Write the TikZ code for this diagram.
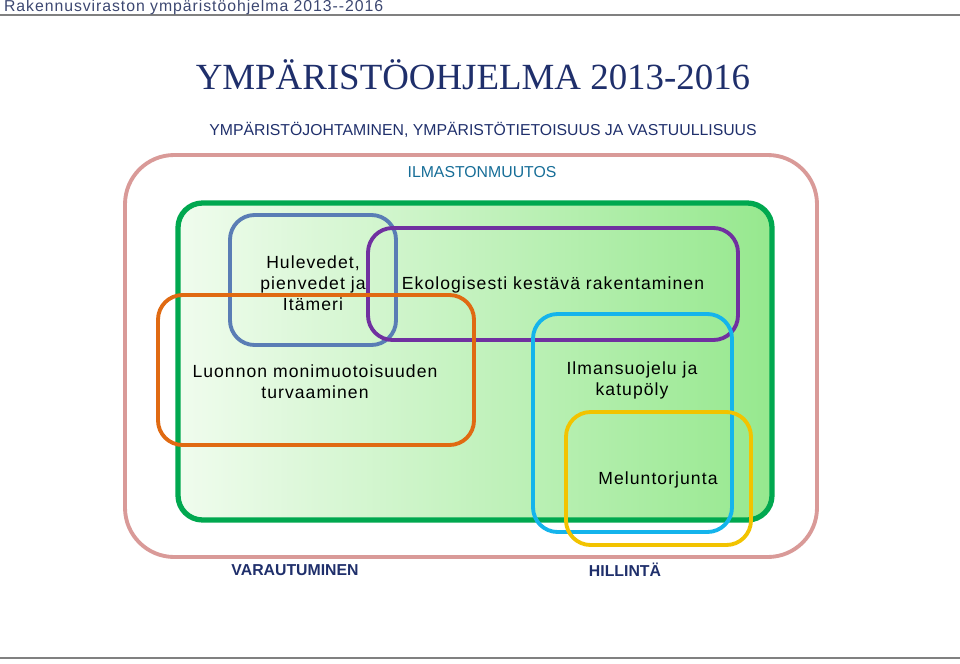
\documentclass[tikz,border=0pt]{standalone}
\usepackage{fontspec}
\setmainfont{Liberation Sans}
\newfontfamily\titlefont{Liberation Serif}
\newfontfamily\spacedfont[LetterSpace=6]{Liberation Sans}
\usetikzlibrary{positioning}
\definecolor{navy}{HTML}{1F2F6B}
\definecolor{pinkline}{HTML}{D99A98}
\definecolor{greenline}{HTML}{00A84F}
\definecolor{steelline}{HTML}{5A7DB5}
\definecolor{purpleline}{HTML}{7030A0}
\definecolor{orangeline}{HTML}{E06A12}
\definecolor{cyanline}{HTML}{14B4EC}
\definecolor{yellowline}{HTML}{F2C300}
\definecolor{greenlight}{HTML}{F0FCEE}
\definecolor{greendark}{HTML}{96E88E}
\begin{document}
\begin{tikzpicture}[x=0.02cm,y=-0.02cm,
	area/.style={draw,line width=2.2pt,rounded corners=14pt},
	label text/.style={align=center,font=\spacedfont\normalsize,text=black},
	caption/.style={font=\small,text=navy}]
	
	\useasboundingbox (0,0) rectangle (960,663);
	\draw[gray,line width=0.8pt] (0,15) -- (960,15);
	\draw[gray,line width=0.8pt] (0,658) -- (960,658);
	\node[anchor=west,text=navy!70!gray,font=\spacedfont\small,inner sep=1pt] (head) at (2,7) {Rakennusviraston ympäristöohjelma 2013--2016};
	
	\node[font=\titlefont\fontsize{21}{25}\selectfont,text=navy] (title) at (473,75) {YMPÄRISTÖOHJELMA 2013-2016};
	\node[caption] (sub) at (483,130) {YMPÄRISTÖJOHTAMINEN, YMPÄRISTÖTIETOISUUS JA VASTUULLISUUS};
	\node[caption,text=navy!70!cyan] (climate) at (482,172) {ILMASTONMUUTOS};
	
	% areas
	\draw[area,pinkline,rounded corners=28pt] (125,155) rectangle (817,557);
	\draw[area,greenline,line width=3pt,left color=greenlight,right color=greendark] (178,203) rectangle (772,520);
	\draw[area,steelline] (230,215) rectangle (396,345);
	\draw[area,purpleline] (368,228) rectangle (738,340);
	\draw[area,orangeline] (158,295) rectangle (474,445);
	\draw[area,cyanline] (533,314) rectangle (732,532);
	\draw[area,yellowline] (566,412) rectangle (751,545);
	
	\node[label text] (storm) at (313,283) {Hulevedet,\\pienvedet ja\\Itämeri};
	\node[label text] (build) at (553,285) {Ekologisesti kestävä rakentaminen};
	\node[label text] (nature) at (315,382) {Luonnon monimuotoisuuden\\turvaaminen};
	\node[label text] (air) at (632,380) {Ilmansuojelu ja\\katupöly};
	\node[label text] (noise) at (658,480) {Meluntorjunta};
	
	\node[caption,font=\small\bfseries] (prep) at (295,570) {VARAUTUMINEN};
	\node[caption,font=\small\bfseries] (mitig) at (625,570) {HILLINTÄ};
\end{tikzpicture}
\end{document}
